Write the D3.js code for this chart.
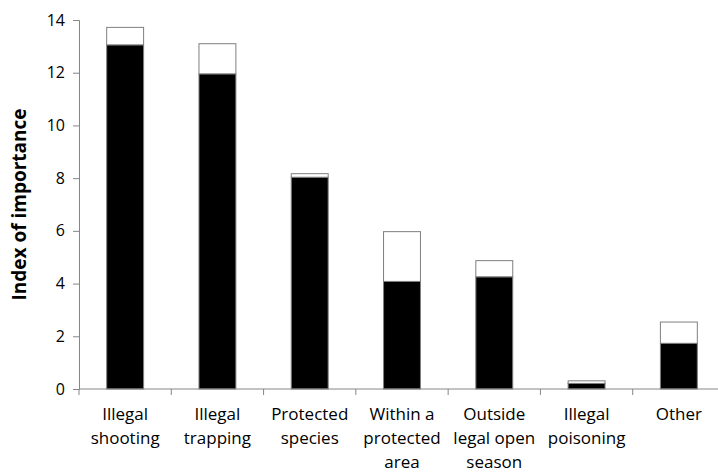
<!DOCTYPE html>
<html>
<head>
<meta charset="utf-8">
<script src="https://cdn.jsdelivr.net/npm/d3@7"></script>
<style>
  body { margin: 0; background: #fff; }
  svg text { font-family: "Open Sans", "Noto Sans", sans-serif; fill: #000; }
</style>
</head>
<body>
<div id="chart"></div>
<script>
const categories = [
    ["Illegal", "shooting"],
    ["Illegal", "trapping"],
    ["Protected", "species"],
    ["Within a", "protected", "area"],
    ["Outside", "legal open", "season"],
    ["Illegal", "poisoning"],
    ["Other"]
];
const lowerValues = [13.05, 11.95, 8.03, 4.08, 4.25, 0.21, 1.73];
const upperValues = [0.67, 1.15, 0.14, 1.89, 0.62, 0.10, 0.81];
const yTicks = [0, 2, 4, 6, 8, 10, 12, 14];

const width = 718;
const height = 474;
const margin = { top: 20, right: -7, bottom: 85, left: 79 };

const svg = d3.select("#chart").append("svg")
    .attr("width", width)
    .attr("height", height);

const keys = categories.map((c, i) => i);
const xScale = d3.scaleBand()
    .domain(keys)
    .range([margin.left, width - margin.right])
    .paddingInner(0.6)
    .paddingOuter(0.3);
const yScale = d3.scaleLinear()
    .domain([0, 14])
    .range([height - margin.bottom, margin.top]);

// stacked bars: black lower part, white upper part
keys.forEach(i => {
    const lo = lowerValues[i];
    const hi = lo + upperValues[i];
    svg.append("rect")
        .attr("x", xScale(i))
        .attr("y", yScale(hi))
        .attr("width", xScale.bandwidth())
        .attr("height", yScale(lo) - yScale(hi))
        .attr("fill", "#fff")
        .attr("stroke", "#7f7f7f")
        .attr("stroke-width", 1);
    svg.append("rect")
        .attr("x", xScale(i))
        .attr("y", yScale(lo))
        .attr("width", xScale.bandwidth())
        .attr("height", yScale(0) - yScale(lo))
        .attr("fill", "#000")
        .attr("stroke", "#7f7f7f")
        .attr("stroke-width", 1);
});

// y axis
const yAxis = svg.append("g")
    .attr("transform", `translate(${margin.left},0)`)
    .call(d3.axisLeft(yScale).tickValues(yTicks).tickSize(6).tickPadding(8));
yAxis.select(".domain").attr("stroke", "#868686");
yAxis.selectAll(".tick line").attr("stroke", "#868686");
yAxis.selectAll(".tick text")
    .style("font-size", "16px");

// x axis with ticks at category boundaries
const step = xScale.step();
const x0 = margin.left;
const boundaries = d3.range(categories.length + 1).map(i => x0 + i * step);
const xAxis = svg.append("g");
xAxis.append("line")
    .attr("x1", x0)
    .attr("x2", width)
    .attr("y1", yScale(0))
    .attr("y2", yScale(0))
    .attr("stroke", "#868686");
xAxis.selectAll(".btick")
    .data(boundaries)
    .enter().append("line")
    .attr("x1", d => d)
    .attr("x2", d => d)
    .attr("y1", yScale(0))
    .attr("y2", yScale(0) + 6)
    .attr("stroke", "#868686");

// category labels
categories.forEach((lines, i) => {
    const t = svg.append("text")
        .attr("x", xScale(i) + xScale.bandwidth() / 2)
        .attr("y", yScale(0) + 31)
        .attr("text-anchor", "middle")
        .style("font-size", "17px");
    lines.forEach((line, j) => {
        t.append("tspan")
            .attr("x", xScale(i) + xScale.bandwidth() / 2)
            .attr("dy", j === 0 ? 0 : 24)
            .text(line);
    });
});

// y axis title
svg.append("text")
    .attr("transform", `translate(26,${(yScale(0) + yScale(14)) / 2}) rotate(-90)`)
    .attr("text-anchor", "middle")
    .style("font-size", "19px")
    .style("font-weight", "bold")
    .text("Index of importance");
</script>
</body>
</html>
